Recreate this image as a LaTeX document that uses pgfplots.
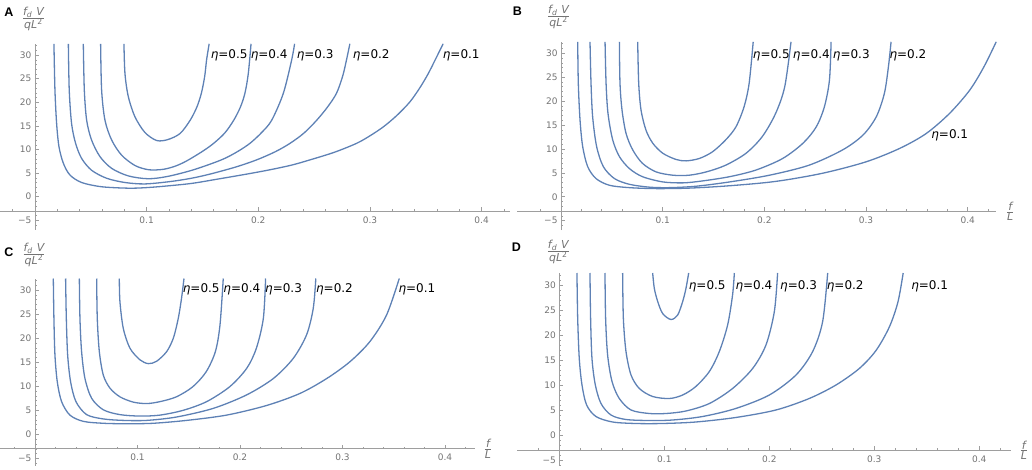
\documentclass[border=0pt]{standalone}
\usepackage{fontspec}
\setmainfont{DejaVu Sans}
\newfontfamily\arialfont{Liberation Sans}
\usepackage{pgfplots}
\pgfplotsset{compat=1.18}
\definecolor{mblue}{rgb}{0.368,0.507,0.710}
\pgfplotscreateplotcyclelist{mcyc}{mblue,line width=1.3pt,smooth,tension=0.5,mark=none\\}
\pgfplotsset{
  mpanel/.style={
    scale only axis, anchor=south west,
    axis lines=middle, enlargelimits=false, clip=false,
    axis line style={-, black!38, line width=0.6pt},
    every inner x axis line/.append style={-},
    every inner y axis line/.append style={-},
    y filter/.expression={y+3},
    xtick={0.1,0.2,0.3,0.4},
    minor xtick={-0.02,0,0.02,0.04,0.06,0.08,0.12,0.14,0.16,0.18,0.22,0.24,0.26,0.28,0.32,0.34,0.36,0.38,0.42},
    ytick={-2,3,8,13,18,23,28,33},
    yticklabels={−5,0,5,10,15,20,25,30},
    minor ytick={-3,-1,0,1,2,4,5,6,7,9,10,11,12,14,15,16,17,19,20,21,22,24,25,26,27,29,30,31,32,34,35},
    tick align=inside,
    major tick length=4pt, minor tick length=2pt,
    every tick/.style={black!38, line width=0.5pt},
    /pgf/number format/assume math mode=true,
    tick label style={font=\fontsize{9}{10}\selectfont, text=black!55},
    xticklabel style={yshift=-2pt},
    cycle list name=mcyc,
  },
}
\tikzset{
  etalab/.style={anchor=west, inner sep=0pt, font=\fontsize{12}{13}\selectfont, text=black},
  ylab/.style={anchor=center, inner sep=0pt, text=black!55, font=\fontsize{11}{12}\selectfont},
  plet/.style={font=\arialfont\bfseries\fontsize{12.5}{13}\selectfont, inner sep=0pt},
}
\newcommand{\ylabtext}{$\frac{\hbox{\itshape f\textsubscript{d}\hspace{4pt}V}}{\hbox{\itshape qL\textsuperscript{\upshape 2}}}$}
\newcommand{\xlabtext}{$\frac{\hbox{\itshape f}}{\hbox{\itshape L}}$}
\newcommand{\et}[1]{\textit{η}=#1}
\begin{document}
\begin{tikzpicture}
\useasboundingbox (0,0) rectangle (1032pt,469pt);

% ---------------- Panel A ----------------
\begin{axis}[mpanel, at={(0pt,239.3pt)}, width=510pt, height=185.9pt,
  xmin=-0.0313, xmax=0.4254, ymin=-4, ymax=35.4]
\addplot coordinates {(0.0797,32.4)(0.0806,26.1)(0.0836,21.2)(0.0896,16.9)(0.0985,13.6)(0.109,11.9)(0.119,12.1)(0.130,13.4)(0.139,16.2)(0.145,19.0)(0.149,21.9)(0.152,25.5)(0.1537,29.0)(0.156,32.4)};
\addplot coordinates {(0.0588,32.4)(0.0597,22.6)(0.0627,16.2)(0.0687,12.0)(0.0776,8.8)(0.0896,6.6)(0.102,5.7)(0.115,5.8)(0.126,6.5)(0.136,7.6)(0.150,9.6)(0.160,11.3)(0.170,13.5)(0.178,16.2)(0.184,19.0)(0.188,21.9)(0.191,26.0)(0.1935,32.4)};
\addplot coordinates {(0.0433,32.4)(0.0442,22.6)(0.0463,16.2)(0.0507,12.0)(0.0582,8.5)(0.0687,6.0)(0.0836,4.4)(0.1015,3.8)(0.119,4.3)(0.142,5.7)(0.167,7.8)(0.181,9.5)(0.1925,11.3)(0.203,13.6)(0.212,16.2)(0.2224,21.9)(0.2299,29.0)(0.2325,32.4)};
\addplot coordinates {(0.0299,32.4)(0.0307,22.6)(0.0328,15.5)(0.0364,11.3)(0.0418,8.1)(0.0507,5.6)(0.0642,3.9)(0.0806,3.0)(0.0985,2.7)(0.121,3.2)(0.140,3.9)(0.157,4.8)(0.180,6.3)(0.1985,7.8)(0.215,9.5)(0.2284,11.3)(0.241,13.5)(0.2523,16.2)(0.262,19.0)(0.270,21.9)(0.2755,25.5)(0.279,29.0)(0.282,32.4)};
\addplot coordinates {(0.0170,32.4)(0.0179,22.6)(0.0194,15.5)(0.0215,10.6)(0.0254,7.1)(0.0313,4.6)(0.0418,3.0)(0.0597,2.1)(0.0836,1.8)(0.0985,1.9)(0.115,2.2)(0.140,2.8)(0.163,3.7)(0.190,4.8)(0.2104,5.7)(0.230,6.7)(0.2463,7.8)(0.268,9.4)(0.288,11.3)(0.300,12.9)(0.312,14.8)(0.324,17.2)(0.3358,20.1)(0.345,23.2)(0.352,26.0)(0.358,28.8)(0.3655,32.4)};
\node[etalab] at (axis cs:0.1573,33) {\et{0.5}};
\node[etalab] at (axis cs:0.1931,33) {\et{0.4}};
\node[etalab] at (axis cs:0.2343,33) {\et{0.3}};
\node[etalab] at (axis cs:0.2845,33) {\et{0.2}};
\node[etalab] at (axis cs:0.3651,33) {\et{0.1}};
\node[ylab, xshift=-1.5pt, yshift=25pt] at (axis cs:0,35.4) {\ylabtext};
\end{axis}

% ---------------- Panel B ----------------
\begin{axis}[mpanel, at={(517pt,238.8pt)}, width=479.2pt, height=188.4pt,
  xmin=-0.0433, xmax=0.428, ymin=-4, ymax=35.4]
\addplot coordinates {(0.0754,32.4)(0.0764,23.7)(0.0787,18.1)(0.0836,13.9)(0.0902,11.2)(0.100,9.1)(0.113,7.8)(0.123,7.5)(0.136,8.0)(0.149,9.4)(0.162,11.9)(0.172,14.6)(0.180,18.8)(0.185,23.7)(0.189,32.4)};
\addplot coordinates {(0.0574,32.4)(0.058,23.7)(0.060,18.1)(0.064,13.2)(0.0705,9.8)(0.080,7.0)(0.0934,5.2)(0.110,4.5)(0.126,4.5)(0.143,5.2)(0.162,6.6)(0.182,9.1)(0.198,12.6)(0.211,17.4)(0.220,23.0)(0.2262,32.4)};
\addplot coordinates {(0.0433,32.4)(0.0443,23.7)(0.0462,17.4)(0.0508,11.9)(0.0574,8.4)(0.0672,5.9)(0.080,4.2)(0.100,3.1)(0.120,2.9)(0.139,3.3)(0.166,4.2)(0.192,5.6)(0.218,8.0)(0.238,11.2)(0.251,14.6)(0.259,18.8)(0.264,24.4)(0.2656,32.4)};
\addplot coordinates {(0.0285,32.4)(0.0295,23.7)(0.0311,16.7)(0.035,10.5)(0.0416,6.3)(0.0525,3.8)(0.0672,2.6)(0.0869,2.0)(0.1066,1.9)(0.133,2.2)(0.166,3.1)(0.205,4.5)(0.244,6.6)(0.277,9.8)(0.297,12.9)(0.310,16.7)(0.318,21.6)(0.322,27.2)(0.3246,32.4)};
\addplot coordinates {(0.0164,32.4)(0.017,23.7)(0.0187,16.0)(0.0213,10.5)(0.0262,6.3)(0.0344,3.8)(0.0475,2.4)(0.0672,1.9)(0.0934,1.7)(0.126,1.8)(0.166,2.3)(0.211,3.2)(0.257,4.9)(0.300,7.3)(0.333,10.1)(0.359,13.2)(0.382,17.4)(0.402,22.3)(0.416,27.2)(0.428,32.4)};
\node[etalab] at (axis cs:0.1885,32.6) {\et{0.5}};
\node[etalab] at (axis cs:0.2279,32.6) {\et{0.4}};
\node[etalab] at (axis cs:0.2672,32.6) {\et{0.3}};
\node[etalab] at (axis cs:0.3229,32.6) {\et{0.2}};
\node[etalab] at (axis cs:0.364,15.9) {\et{0.1}};
\node[ylab, xshift=-2.5pt, yshift=25pt] at (axis cs:0,35.4) {\ylabtext};
\node[ylab, xshift=14pt] at (axis cs:0.428,0) {\xlabtext};
\end{axis}

% ---------------- Panel C ----------------
\begin{axis}[mpanel, at={(0pt,3.4pt)}, width=475pt, height=187.1pt,
  xmin=-0.0341, xmax=0.4293, ymin=-3.5, ymax=35.4]
\addplot coordinates {(0.0823,32.4)(0.0829,27.6)(0.0862,22.0)(0.0927,17.9)(0.1024,15.5)(0.1106,14.7)(0.1187,15.2)(0.1285,17.2)(0.135,20.0)(0.1398,24.1)(0.143,28.3)(0.1454,32.4)};
\addplot coordinates {(0.0602,32.4)(0.0608,24.1)(0.0628,17.2)(0.0667,12.3)(0.0732,9.6)(0.0829,7.8)(0.0959,6.7)(0.109,6.4)(0.122,6.8)(0.138,7.8)(0.154,9.9)(0.167,13.0)(0.176,17.2)(0.1805,22.7)(0.1837,32.4)};
\addplot coordinates {(0.0433,32.4)(0.0439,24.1)(0.0455,17.2)(0.0488,11.6)(0.0553,7.5)(0.0667,5.1)(0.0829,4.1)(0.1024,3.8)(0.122,4.0)(0.1447,5.0)(0.1675,6.8)(0.19,9.9)(0.2065,13.7)(0.216,17.9)(0.2228,24.1)(0.225,32.4)};
\addplot coordinates {(0.0299,32.4)(0.0306,24.1)(0.0319,16.5)(0.0348,10.9)(0.040,6.8)(0.0504,4.1)(0.0667,3.2)(0.0862,2.9)(0.109,2.9)(0.138,3.6)(0.174,5.4)(0.2065,8.2)(0.2325,11.6)(0.252,15.8)(0.265,20.7)(0.2715,26.2)(0.274,32.4)};
\addplot coordinates {(0.0179,32.4)(0.0185,24.1)(0.0195,16.5)(0.0218,10.9)(0.026,6.8)(0.0341,4.0)(0.0472,2.7)(0.0667,2.3)(0.0894,2.2)(0.1154,2.3)(0.148,2.9)(0.187,4.0)(0.226,6.0)(0.2585,8.5)(0.2846,11.6)(0.3073,15.1)(0.3268,19.3)(0.343,24.8)(0.3554,32.4)};
\node[etalab] at (axis cs:0.1441,33.2) {\et{0.5}};
\node[etalab] at (axis cs:0.1837,33.2) {\et{0.4}};
\node[etalab] at (axis cs:0.2244,33.2) {\et{0.3}};
\node[etalab] at (axis cs:0.2741,33.2) {\et{0.2}};
\node[etalab] at (axis cs:0.3545,33.2) {\et{0.1}};
\node[ylab, xshift=-1pt, yshift=23.5pt] at (axis cs:0,35.4) {\ylabtext};
\node[ylab, xshift=13pt] at (axis cs:0.4293,0) {\xlabtext};
\end{axis}

% ---------------- Panel D ----------------
\begin{axis}[mpanel, at={(517pt,4pt)}, width=493.8pt, height=192pt,
  xmin=-0.0403, xmax=0.430, ymin=-3, ymax=35.4]
\addplot coordinates {(0.0889,32.4)(0.0905,29.3)(0.0937,26.7)(0.0984,24.3)(0.1063,23.1)(0.1127,24.0)(0.1175,26.7)(0.1206,29.3)(0.1232,32.4)};
\addplot coordinates {(0.0603,32.4)(0.061,23.3)(0.0635,16.7)(0.0683,12.0)(0.0762,9.3)(0.0889,7.7)(0.1048,7.3)(0.1175,8.0)(0.130,9.7)(0.1429,12.7)(0.1524,16.7)(0.1603,22.0)(0.165,28.0)(0.1667,32.4)};
\addplot coordinates {(0.0435,32.4)(0.0441,23.3)(0.046,16.0)(0.0502,10.7)(0.0571,7.3)(0.0683,5.0)(0.0857,4.3)(0.1016,4.3)(0.1206,4.8)(0.1429,6.3)(0.165,9.3)(0.1841,13.3)(0.1968,18.0)(0.2048,24.7)(0.2079,32.4)};
\addplot coordinates {(0.0292,32.4)(0.0298,23.3)(0.0311,15.3)(0.0343,10.0)(0.0397,6.3)(0.0492,4.0)(0.0635,3.1)(0.0857,2.9)(0.108,3.0)(0.1365,3.7)(0.168,5.3)(0.200,8.0)(0.2254,12.0)(0.2413,16.7)(0.2508,22.7)(0.2556,32.4)};
\addplot coordinates {(0.0168,32.4)(0.0175,23.3)(0.019,15.3)(0.0216,10.0)(0.026,6.0)(0.0349,3.7)(0.0508,2.6)(0.073,2.3)(0.0984,2.3)(0.130,2.6)(0.168,3.5)(0.2063,5.0)(0.238,7.3)(0.2635,10.0)(0.2857,13.3)(0.3016,16.9)(0.3143,21.6)(0.3225,26.6)(0.3275,32.4)};
\node[etalab] at (axis cs:0.1232,32.8) {\et{0.5}};
\node[etalab] at (axis cs:0.1676,32.8) {\et{0.4}};
\node[etalab] at (axis cs:0.2102,32.8) {\et{0.3}};
\node[etalab] at (axis cs:0.2546,32.8) {\et{0.2}};
\node[etalab] at (axis cs:0.335,32.8) {\et{0.1}};
\node[ylab, xshift=-1pt, yshift=21.5pt] at (axis cs:0,35.4) {\ylabtext};
\node[ylab, xshift=13pt] at (axis cs:0.430,0) {\xlabtext};
\end{axis}

% panel letters
\node[plet] at (9pt,456.5pt) {A};
\node[plet] at (517.5pt,458pt) {B};
\node[plet] at (9pt,216.5pt) {C};
\node[plet] at (516.5pt,221.5pt) {D};
\end{tikzpicture}
\end{document}
